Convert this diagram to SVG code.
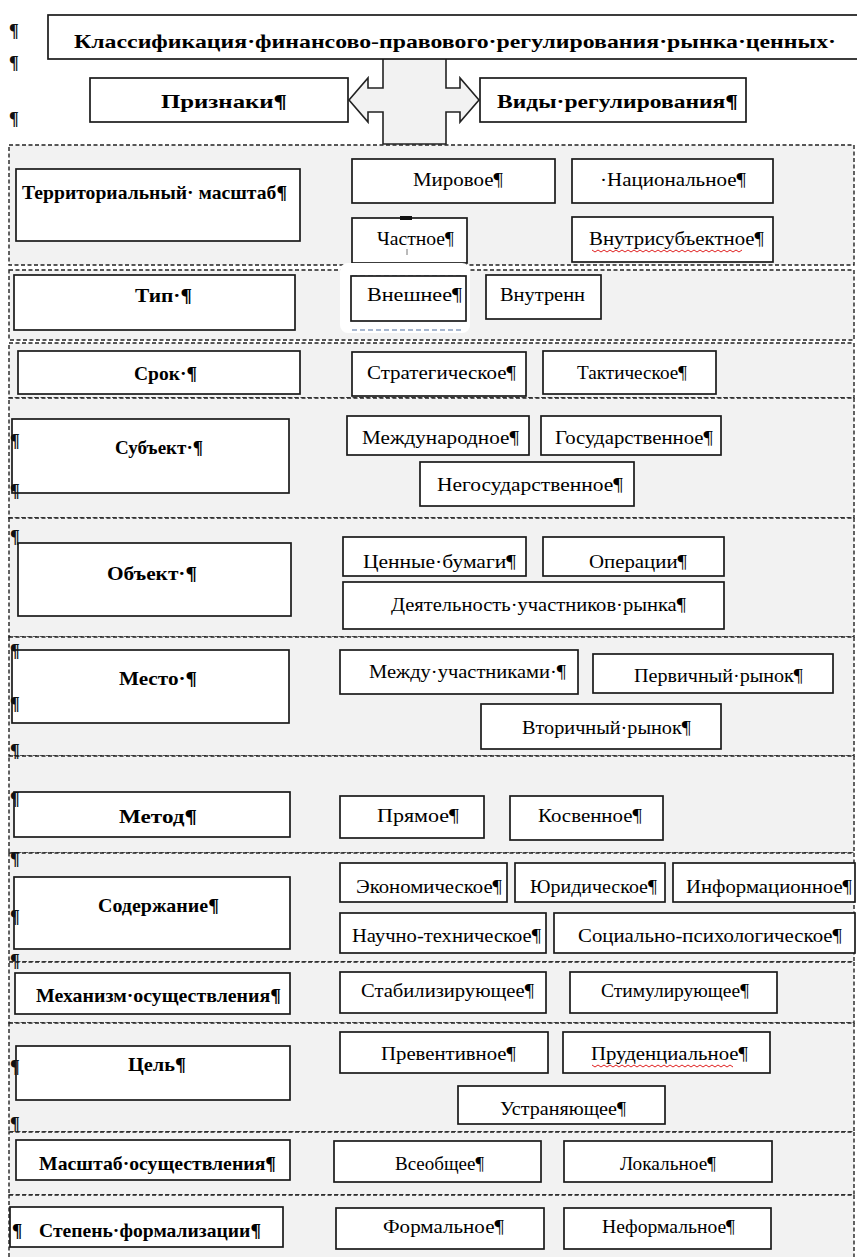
<svg xmlns="http://www.w3.org/2000/svg" width="857" height="1257" viewBox="0 0 857 1257">
<style>
.sec{fill:#f2f2f2;stroke:#222;stroke-width:1.4;stroke-dasharray:4 2.5}
.box{fill:#fff;stroke:#1a1a1a;stroke-width:1.7}
.b{font-family:"Liberation Serif","Times New Roman",serif;font-size:19px;font-weight:bold;fill:#000}
.v{font-family:"Liberation Serif","Times New Roman",serif;font-size:19px;fill:#000}
.p{font-family:"Liberation Serif","Times New Roman",serif;font-size:18px;font-weight:bold;fill:#111}
.wave{fill:none;stroke:#e02020;stroke-width:1}
</style>
<rect width="857" height="1257" fill="#fff"/>
<g id="sections">
<rect class="sec" x="9" y="145" width="845" height="120"/>
<rect class="sec" x="9" y="270" width="845" height="70"/>
<rect class="sec" x="9" y="343" width="845" height="55"/>
<rect class="sec" x="9" y="398" width="845" height="120"/>
<rect class="sec" x="9" y="518" width="845" height="119"/>
<rect class="sec" x="9" y="637" width="845" height="119"/>
<rect class="sec" x="9" y="756" width="845" height="97"/>
<rect class="sec" x="9" y="853" width="845" height="109"/>
<rect class="sec" x="9" y="962" width="845" height="61"/>
<rect class="sec" x="9" y="1023" width="845" height="109"/>
<rect class="sec" x="9" y="1132" width="845" height="63"/>
<rect class="sec" x="9" y="1195" width="845" height="70"/>
</g>
<g id="connectors">
<path d="M383,58 H446 V88 H460 V78 L479,100 L460,122 V112 H446 V144 H383 V112 H368 V122 L349,100 L368,78 V88 H383 Z" fill="#f2f2f2" stroke="#222" stroke-width="1.6"/>
</g>
<g id="title"><rect class="box" x="48" y="15" width="812" height="44"/><text class="b" x="74" y="48" font-size="22" textLength="762" lengthAdjust="spacingAndGlyphs">Классификация·финансово-правового·регулирования·рынка·ценных·</text></g>
<g id="priznaki"><rect class="box" x="90" y="78" width="258" height="44"/><text class="b" x="161" y="108" font-size="21" textLength="126" lengthAdjust="spacingAndGlyphs">Признаки¶</text></g>
<g id="vidy"><rect class="box" x="480" y="78" width="266" height="44"/><text class="b" x="497" y="108" font-size="21" textLength="241" lengthAdjust="spacingAndGlyphs">Виды·регулирования¶</text></g>

<g id="terr"><rect class="box" x="16" y="169" width="284" height="72"/><text class="b" x="22" y="199" textLength="265" lengthAdjust="spacingAndGlyphs">Территориальный· масштаб¶</text></g>
<g id="mirovoe"><rect class="box" x="352" y="159" width="203" height="44"/><text class="v" x="413" y="186" textLength="90" lengthAdjust="spacingAndGlyphs">Мировое¶</text></g>
<g id="nacionalnoe"><rect class="box" x="572" y="159" width="201" height="44"/><text class="v" x="600" y="186" textLength="146" lengthAdjust="spacingAndGlyphs">·Национальное¶</text></g>
<g id="chastnoe"><rect class="box" x="352" y="218" width="115" height="45"/><rect x="400" y="216" width="12" height="4" fill="#111"/><line x1="407" y1="249" x2="407" y2="255" stroke="#777" stroke-width="1"/><text class="v" x="377" y="245" textLength="77" lengthAdjust="spacingAndGlyphs">Частное¶</text></g>
<g id="vnutrisub"><rect class="box" x="572" y="217" width="201" height="45"/><text class="v" x="589" y="245" textLength="175" lengthAdjust="spacingAndGlyphs">Внутрисубъектное¶</text><path class="wave" d="M592,250 l3,2 l3,-2 l3,2 l3,-2 l3,2 l3,-2 l3,2 l3,-2 l3,2 l3,-2 l3,2 l3,-2 l3,2 l3,-2 l3,2 l3,-2 l3,2 l3,-2 l3,2 l3,-2 l3,2 l3,-2 l3,2 l3,-2 l3,2 l3,-2 l3,2 l3,-2 l3,2 l3,-2 l3,2 l3,-2 l3,2 l3,-2 l3,2 l3,-2 l3,2 l3,-2 l3,2 l3,-2 l3,2 l3,-2 l3,2 l3,-2 l3,2 l3,-2 l3,2 l3,-2 l3,2 l3,-2"/></g>

<g id="tip"><rect class="box" x="14" y="275" width="281" height="55"/><text class="b" x="135" y="302" textLength="57" lengthAdjust="spacingAndGlyphs">Тип·¶</text></g>
<g id="vneshnee"><rect x="340" y="263" width="130" height="70" rx="8" fill="#fff"/><line x1="352" y1="276" x2="462" y2="276" stroke="#8aa0c0" stroke-width="1.5" stroke-dasharray="5 3"/><line x1="352" y1="330" x2="462" y2="330" stroke="#8aa0c0" stroke-width="1.5" stroke-dasharray="5 3"/><rect class="box" x="351" y="276" width="115" height="45"/><text class="v" x="367" y="301" textLength="95" lengthAdjust="spacingAndGlyphs">Внешнее¶</text></g>
<g id="vnutrenn"><rect class="box" x="486" y="275" width="115" height="44"/><text class="v" x="500" y="301" textLength="85" lengthAdjust="spacingAndGlyphs">Внутренн</text></g>

<g id="srok"><rect class="box" x="18" y="351" width="282" height="43"/><text class="b" x="134" y="380" textLength="63" lengthAdjust="spacingAndGlyphs">Срок·¶</text></g>
<g id="strateg"><rect class="box" x="352" y="352" width="174" height="44"/><text class="v" x="367" y="379" textLength="149" lengthAdjust="spacingAndGlyphs">Стратегическое¶</text></g>
<g id="taktich"><rect class="box" x="543" y="351" width="173" height="43"/><text class="v" x="577" y="379" textLength="110" lengthAdjust="spacingAndGlyphs">Тактическое¶</text></g>

<g id="subekt"><rect class="box" x="12" y="419" width="277" height="74"/><text class="b" x="115" y="454" textLength="88" lengthAdjust="spacingAndGlyphs">Субъект·¶</text></g>
<g id="mezhdunar"><rect class="box" x="347" y="416" width="182" height="39"/><text class="v" x="362" y="444" textLength="157" lengthAdjust="spacingAndGlyphs">Международное¶</text></g>
<g id="gosud"><rect class="box" x="541" y="416" width="180" height="39"/><text class="v" x="555" y="444" textLength="158" lengthAdjust="spacingAndGlyphs">Государственное¶</text></g>
<g id="negosud"><rect class="box" x="420" y="462" width="214" height="44"/><text class="v" x="437" y="491" textLength="186" lengthAdjust="spacingAndGlyphs">Негосударственное¶</text></g>

<g id="obekt"><rect class="box" x="18" y="543" width="273" height="73"/><text class="b" x="107" y="580" textLength="90" lengthAdjust="spacingAndGlyphs">Объект·¶</text></g>
<g id="cennye"><rect class="box" x="343" y="537" width="183" height="39"/><text class="v" x="363" y="568" textLength="153" lengthAdjust="spacingAndGlyphs">Ценные·бумаги¶</text></g>
<g id="operacii"><rect class="box" x="543" y="537" width="181" height="39"/><text class="v" x="589" y="568" textLength="98" lengthAdjust="spacingAndGlyphs">Операции¶</text></g>
<g id="deyat"><rect class="box" x="343" y="582" width="381" height="47"/><text class="v" x="391" y="611" textLength="295" lengthAdjust="spacingAndGlyphs">Деятельность·участников·рынка¶</text></g>

<g id="mesto"><rect class="box" x="12" y="650" width="277" height="73"/><text class="b" x="119" y="685" textLength="78" lengthAdjust="spacingAndGlyphs">Место·¶</text></g>
<g id="mezhdu"><rect class="box" x="340" y="650" width="238" height="44"/><text class="v" x="369" y="678" textLength="197" lengthAdjust="spacingAndGlyphs">Между·участниками·¶</text></g>
<g id="pervich"><rect class="box" x="593" y="654" width="240" height="39"/><text class="v" x="634" y="682" textLength="169" lengthAdjust="spacingAndGlyphs">Первичный·рынок¶</text></g>
<g id="vtorich"><rect class="box" x="481" y="704" width="240" height="45"/><text class="v" x="522" y="734" textLength="169" lengthAdjust="spacingAndGlyphs">Вторичный·рынок¶</text></g>

<g id="metod"><rect class="box" x="14" y="792" width="276" height="45"/><text class="b" x="119" y="823" textLength="78" lengthAdjust="spacingAndGlyphs">Метод¶</text></g>
<g id="pryamoe"><rect class="box" x="340" y="796" width="144" height="42"/><text class="v" x="377" y="822" textLength="82" lengthAdjust="spacingAndGlyphs">Прямое¶</text></g>
<g id="kosvennoe"><rect class="box" x="510" y="796" width="153" height="44"/><text class="v" x="538" y="822" textLength="104" lengthAdjust="spacingAndGlyphs">Косвенное¶</text></g>

<g id="soderzh"><rect class="box" x="14" y="877" width="276" height="72"/><text class="b" x="98" y="912" textLength="121" lengthAdjust="spacingAndGlyphs">Содержание¶</text></g>
<g id="ekonom"><rect class="box" x="340" y="863" width="167" height="39"/><text class="v" x="356" y="893" textLength="146" lengthAdjust="spacingAndGlyphs">Экономическое¶</text></g>
<g id="yurid"><rect class="box" x="515" y="863" width="150" height="39"/><text class="v" x="530" y="893" textLength="127" lengthAdjust="spacingAndGlyphs">Юридическое¶</text></g>
<g id="inform"><rect class="box" x="673" y="863" width="182" height="39"/><text class="v" x="686" y="893" textLength="166" lengthAdjust="spacingAndGlyphs">Информационное¶</text></g>
<g id="nauchno"><rect class="box" x="340" y="913" width="206" height="40"/><text class="v" x="352" y="942" textLength="189" lengthAdjust="spacingAndGlyphs">Научно-техническое¶</text></g>
<g id="socialno"><rect class="box" x="554" y="913" width="301" height="40"/><text class="v" x="578" y="942" textLength="264" lengthAdjust="spacingAndGlyphs">Социально-психологическое¶</text></g>

<g id="mehanizm"><rect class="box" x="15" y="973" width="275" height="41"/><text class="b" x="36" y="1002" textLength="245" lengthAdjust="spacingAndGlyphs">Механизм·осуществления¶</text></g>
<g id="stabil"><rect class="box" x="340" y="972" width="206" height="41"/><text class="v" x="361" y="997" textLength="173" lengthAdjust="spacingAndGlyphs">Стабилизирующее¶</text></g>
<g id="stimul"><rect class="box" x="570" y="972" width="207" height="41"/><text class="v" x="601" y="997" textLength="148" lengthAdjust="spacingAndGlyphs">Стимулирующее¶</text></g>

<g id="cel"><rect class="box" x="16" y="1046" width="274" height="54"/><text class="b" x="128" y="1071" textLength="58" lengthAdjust="spacingAndGlyphs">Цель¶</text></g>
<g id="prevent"><rect class="box" x="340" y="1032" width="208" height="41"/><text class="v" x="381" y="1060" textLength="135" lengthAdjust="spacingAndGlyphs">Превентивное¶</text></g>
<g id="prudenc"><rect class="box" x="563" y="1032" width="207" height="41"/><text class="v" x="591" y="1060" textLength="157" lengthAdjust="spacingAndGlyphs">Пруденциальное¶</text><path class="wave" d="M592,1065 l3,2 l3,-2 l3,2 l3,-2 l3,2 l3,-2 l3,2 l3,-2 l3,2 l3,-2 l3,2 l3,-2 l3,2 l3,-2 l3,2 l3,-2 l3,2 l3,-2 l3,2 l3,-2 l3,2 l3,-2 l3,2 l3,-2 l3,2 l3,-2 l3,2 l3,-2 l3,2 l3,-2 l3,2 l3,-2 l3,2 l3,-2 l3,2 l3,-2 l3,2 l3,-2 l3,2 l3,-2 l3,2 l3,-2 l3,2 l3,-2 l3,2 l3,-2 l3,2"/></g>
<g id="ustran"><rect class="box" x="458" y="1086" width="207" height="38"/><text class="v" x="500" y="1115" textLength="126" lengthAdjust="spacingAndGlyphs">Устраняющее¶</text></g>

<g id="masshtab"><rect class="box" x="16" y="1140" width="274" height="40"/><text class="b" x="39" y="1170" textLength="237" lengthAdjust="spacingAndGlyphs">Масштаб·осуществления¶</text></g>
<g id="vseobshee"><rect class="box" x="334" y="1141" width="207" height="41"/><text class="v" x="395" y="1170" textLength="89" lengthAdjust="spacingAndGlyphs">Всеобщее¶</text></g>
<g id="lokalnoe"><rect class="box" x="564" y="1141" width="208" height="41"/><text class="v" x="620" y="1170" textLength="96" lengthAdjust="spacingAndGlyphs">Локальное¶</text></g>

<g id="stepen"><rect class="box" x="10" y="1207" width="273" height="40"/><text class="b" x="12" y="1237">¶</text><text class="b" x="39" y="1237" textLength="222" lengthAdjust="spacingAndGlyphs">Степень·формализации¶</text></g>
<g id="formalnoe"><rect class="box" x="336" y="1208" width="208" height="41"/><text class="v" x="383" y="1233" textLength="121" lengthAdjust="spacingAndGlyphs">Формальное¶</text></g>
<g id="neformalnoe"><rect class="box" x="564" y="1208" width="207" height="41"/><text class="v" x="602" y="1233" textLength="133" lengthAdjust="spacingAndGlyphs">Неформальное¶</text></g>

<g id="marks">
<text class="p" x="9" y="37">¶</text>
<text class="p" x="9" y="69">¶</text>
<text class="p" x="9" y="125">¶</text>
<text class="p" x="10" y="447">¶</text>
<text class="p" x="10" y="497">¶</text>
<text class="p" x="10" y="543">¶</text>
<text class="p" x="10" y="657">¶</text>
<text class="p" x="10" y="710">¶</text>
<text class="p" x="10" y="757">¶</text>
<text class="p" x="10" y="805">¶</text>
<text class="p" x="10" y="865">¶</text>
<text class="p" x="10" y="923">¶</text>
<text class="p" x="10" y="967">¶</text>
<text class="p" x="10" y="1073">¶</text>
<text class="p" x="10" y="1130">¶</text>
</g>
</svg>
